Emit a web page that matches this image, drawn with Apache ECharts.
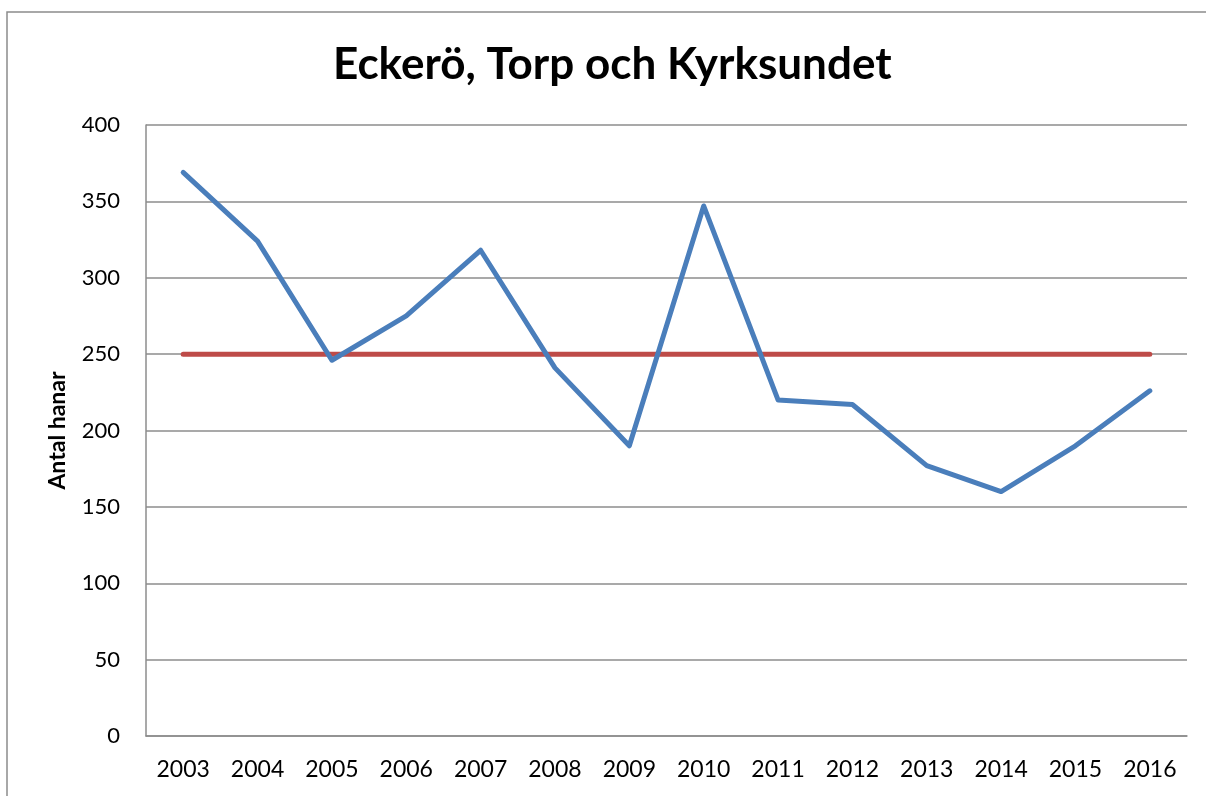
<!DOCTYPE html>
<html><head><meta charset="utf-8">
<script src="https://cdn.jsdelivr.net/npm/echarts@6/dist/echarts.min.js"></script>
<style>html,body{margin:0;padding:0;background:#fff}#c{width:1206px;height:796px}</style>
</head><body><div id="c"></div>
<script>
var categories = ['2003','2004','2005','2006','2007','2008','2009','2010','2011','2012','2013','2014','2015','2016'];
var antalHanar = [369, 324, 246, 275, 318, 241, 190, 347, 220, 217, 177, 160, 190, 226];
var target = [250, 250, 250, 250, 250, 250, 250, 250, 250, 250, 250, 250, 250, 250];
var yTicks = {min: 0, max: 400, interval: 50};

var chart = echarts.init(document.getElementById('c'), null, {renderer: 'canvas'});
var font = 'Lato, "Open Sans", "Noto Sans", sans-serif';
chart.setOption({
  animation: false,
  backgroundColor: '#fff',
  graphic: [{
    type: 'rect', silent: true,
    shape: {x: 7, y: 12, width: 1215, height: 800},
    style: {fill: 'none', stroke: '#8c8c8c', lineWidth: 1.5}
  }],
  title: {
    text: 'Eckerö, Torp och Kyrksundet',
    left: 328, top: 38,
    textStyle: {fontFamily: font, fontSize: 44, fontWeight: 'bold', color: '#000'}
  },
  grid: {left: 146, right: 19, top: 125, bottom: 60, containLabel: false},
  xAxis: {
    type: 'category', data: categories, boundaryGap: true,
    axisLine: {lineStyle: {color: '#8c8c8c', width: 1.5}},
    axisTick: {show: false},
    axisLabel: {color: '#000', fontFamily: font, fontSize: 23, margin: 22}
  },
  yAxis: {
    type: 'value', min: yTicks.min, max: yTicks.max, interval: yTicks.interval,
    name: 'Antal hanar', nameLocation: 'middle', nameGap: 77, nameRotate: 90,
    nameTextStyle: {color: '#000', fontFamily: font, fontSize: 23, fontWeight: 'bold'},
    axisLine: {show: true, lineStyle: {color: '#8c8c8c', width: 1.5}},
    axisTick: {show: false},
    axisLabel: {color: '#000', fontFamily: font, fontSize: 22, margin: 26},
    splitLine: {lineStyle: {color: '#8c8c8c', width: 1.5}}
  },
  series: [
    {type: 'line', data: antalHanar, symbol: 'none', smooth: false,
     lineStyle: {color: '#4A7EBB', width: 5, cap: 'round', join: 'round'}, z: 3},
    {type: 'line', data: target, symbol: 'none',
     lineStyle: {color: '#BE4B48', width: 5, cap: 'round'}, z: 2}
  ]
});
</script></body></html>
